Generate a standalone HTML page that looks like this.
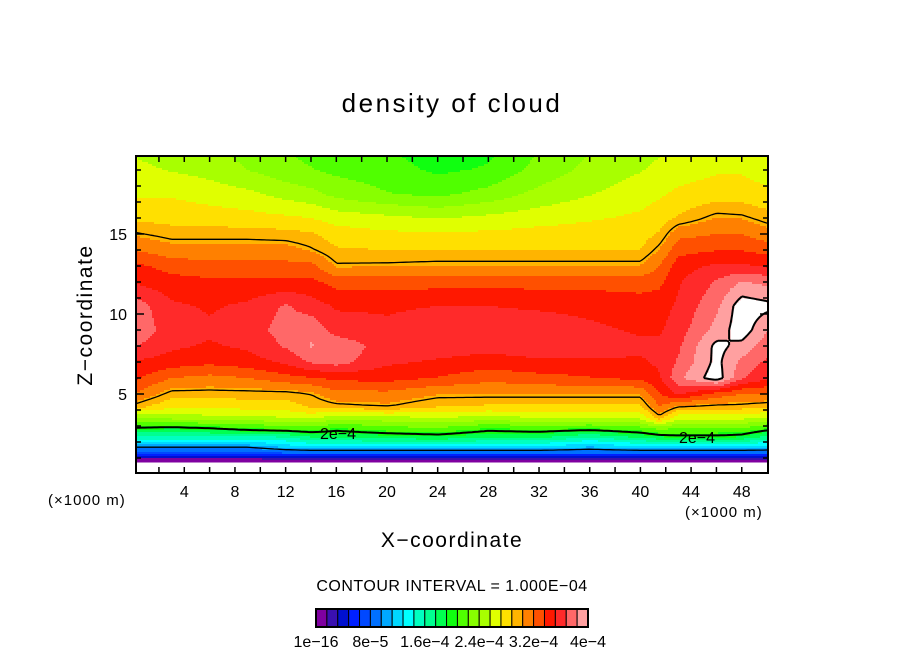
<!DOCTYPE html>
<html><head><meta charset="utf-8">
<style>
body{margin:0;background:#fff;}
svg{display:block;font-family:"Liberation Sans","DejaVu Sans",sans-serif;}
</style></head>
<body>
<svg id="chart" width="904" height="654" viewBox="0 0 904 654">
<rect width="904" height="654" fill="#fff"/>
<text x="452" y="112" font-size="26" text-anchor="middle" letter-spacing="2.5">density of cloud</text>
<defs><clipPath id="pc"><rect x="136" y="156" width="632" height="317"/></clipPath></defs>
<g id="field" clip-path="url(#pc)"></g>
<g id="contours" clip-path="url(#pc)"></g>
<g id="axes"></g>
<rect x="136" y="156" width="632" height="317" fill="none" stroke="#000" stroke-width="2"/>
<text x="48" y="505" font-size="15" letter-spacing="1">(×1000 m)</text>
<text x="685" y="517" font-size="15" letter-spacing="1">(×1000 m)</text>
<text x="452" y="547" font-size="21" text-anchor="middle" letter-spacing="1.5">X−coordinate</text>
<text x="0" y="0" font-size="21" text-anchor="middle" letter-spacing="1.5" transform="translate(92,315) rotate(-90)">Z−coordinate</text>
<text x="452" y="591" font-size="16" text-anchor="middle" letter-spacing="0.5">CONTOUR INTERVAL = 1.000E−04</text>
<g id="cbar"></g>
</svg>
<script>
const xs=[0,3,6,9,12,14,16,20,24,28,32,36,40,41.5,43,46,48,50];
const zs=[0,0.6,0.9,1.3,1.8,2.3,2.8,3.5,4.2,5,6,7,8,9,10.5,12,13,14,15,16,17.5,19,20];
const dens=[
[-0.2,-0.2,-0.2,-0.2,-0.2,-0.2,-0.2,-0.2,-0.2,-0.2,-0.2,-0.2,-0.2,-0.2,-0.2,-0.2,-0.2,-0.2],
[-0.1,-0.1,-0.1,-0.1,-0.1,-0.1,-0.1,-0.1,-0.1,-0.1,-0.1,-0.1,-0.1,-0.1,-0.1,-0.1,-0.1,-0.1],
[0.1,0.1,0.1,0.1,0.1,0.1,0.1,0.1,0.1,0.1,0.1,0.1,0.1,0.1,0.1,0.1,0.1,0.1],
[0.7,0.7,0.7,0.7,0.8,0.8,0.8,0.8,0.8,0.8,0.8,0.8,0.8,0.8,0.8,0.8,0.8,0.8],
[1.1,1.1,1.1,1.1,1.25,1.35,1.35,1.35,1.35,1.35,1.35,1.2,1.35,1.35,1.35,1.35,1.35,1.3],
[1.55,1.55,1.55,1.55,1.6,1.75,1.8,1.85,1.9,1.8,1.8,1.6,1.8,1.9,1.95,1.95,1.9,1.7],
[1.95,1.9,1.95,2.05,2.1,2.15,2.05,2.15,2.2,2.05,2.1,2.05,2.15,2.25,2.2,2.2,2.2,2.05],
[2.35,2.45,2.5,2.5,2.55,2.6,2.45,2.5,2.55,2.5,2.55,2.55,2.6,2.95,2.6,2.6,2.6,2.55],
[2.95,2.75,2.75,2.78,2.8,2.9,2.95,3.0,2.88,2.85,2.85,2.85,2.85,3.2,3.0,2.95,2.95,2.9],
[3.2,2.95,2.95,2.95,2.95,3.0,3.15,3.15,3.05,3.05,3.05,3.05,3.05,3.35,3.55,3.3,3.2,3.2],
[3.4,3.2,3.15,3.2,3.3,3.35,3.4,3.42,3.35,3.25,3.3,3.35,3.4,3.5,3.8,4.1,3.7,3.55],
[3.5,3.45,3.4,3.45,3.55,3.7,3.75,3.55,3.5,3.45,3.5,3.5,3.5,3.55,3.7,4.05,3.8,3.65],
[3.7,3.55,3.5,3.55,3.7,3.85,3.8,3.6,3.6,3.58,3.6,3.6,3.55,3.55,3.65,4.05,3.95,3.75],
[3.8,3.6,3.55,3.6,3.75,3.8,3.6,3.55,3.6,3.6,3.6,3.55,3.5,3.5,3.6,3.9,4.1,3.85],
[3.78,3.55,3.5,3.55,3.7,3.6,3.5,3.5,3.52,3.52,3.5,3.48,3.45,3.45,3.55,3.8,4.1,4.05],
[3.5,3.42,3.4,3.4,3.4,3.4,3.3,3.28,3.3,3.3,3.3,3.3,3.28,3.32,3.5,3.7,3.85,3.8],
[3.4,3.3,3.25,3.25,3.25,3.25,3.02,3.03,3.05,3.05,3.05,3.05,3.05,3.2,3.45,3.55,3.55,3.5],
[3.2,3.1,3.1,3.1,3.1,3.02,2.9,2.88,2.88,2.88,2.88,2.88,2.88,3.05,3.3,3.35,3.35,3.3],
[3.02,2.95,2.95,2.95,2.93,2.9,2.8,2.75,2.75,2.75,2.78,2.8,2.8,2.9,3.15,3.2,3.2,3.1],
[2.85,2.82,2.8,2.78,2.75,2.72,2.65,2.6,2.55,2.6,2.65,2.7,2.75,2.8,2.9,3.05,3.03,2.95],
[2.7,2.7,2.65,2.6,2.5,2.45,2.35,2.25,2.2,2.3,2.45,2.55,2.65,2.7,2.75,2.8,2.8,2.75],
[2.6,2.55,2.5,2.4,2.3,2.25,2.2,2.15,2.05,2.1,2.3,2.45,2.55,2.6,2.65,2.7,2.7,2.65],
[2.55,2.5,2.45,2.35,2.25,2.2,2.15,2.1,2.0,2.05,2.25,2.4,2.5,2.55,2.6,2.65,2.65,2.6]
];
const palette=["#7f00a0","#3a10b0","#0010d0","#0020ff","#0048ff","#0070ff","#00a8ff","#00d8ff","#00ffff","#00ffc0","#00ff90","#00ff50","#10ff10","#50ff00","#88ff00","#a8ff00","#e0ff00","#ffe000","#ffb400","#ff8000","#ff5000","#ff1800","#ff2a2a","#ff6868","#ffa0a0"];
const contourLevels=[1,2,3,4];
const xTicks=[4,8,12,16,20,24,28,32,36,40,44,48];
const yTicks=[5,10,15];
const cbarLabels=["1e−16","8e−5","1.6e−4","2.4e−4","3.2e−4","4e−4"];
const step=0.16;

const NS="http://www.w3.org/2000/svg";
const X=x=>133.6+12.67*x;
const Y=z=>474-16*z;
const Xinv=px=>(px-133.6)/12.67;
const Yinv=py=>(474-py)/16;
function idx(arr,v){let i=0;while(i<arr.length-2&&v>arr[i+1])i++;return i;}
function val(x,z){
  x=Math.max(0,Math.min(50,x));z=Math.max(0,Math.min(20,z));
  const i=idx(xs,x),j=idx(zs,z);
  const tx=(x-xs[i])/(xs[i+1]-xs[i]),tz=(z-zs[j])/(zs[j+1]-zs[j]);
  const a=dens[j][i],b=dens[j][i+1],c=dens[j+1][i],d=dens[j+1][i+1];
  return (a*(1-tx)+b*tx)*(1-tz)+(c*(1-tx)+d*tx)*tz;
}
function color(v){if(v<0)return null;const k=Math.floor(v/step);if(k>=palette.length)return null;return palette[k];}

const field=document.getElementById('field');
for(let py=156;py<474;py+=2){
  let runStart=136,runCol=color(val(Xinv(137),Yinv(py+1)));
  for(let px=138;px<=770;px+=2){
    const c=px<768?color(val(Xinv(px+1),Yinv(py+1))):'END';
    if(c!==runCol){
      if(runCol){
        const r=document.createElementNS(NS,'rect');
        r.setAttribute('x',runStart);r.setAttribute('y',py);
        r.setAttribute('width',px-runStart+0.5);r.setAttribute('height',2.5);
        r.setAttribute('fill',runCol);
        
        
        field.appendChild(r);
      }
      runStart=px;runCol=c;
    }
  }
}

const cg=document.getElementById('contours');
const G=3;
contourLevels.forEach(L=>{
  let d='';
  for(let py=156;py<474;py+=G){
    for(let px=136;px<768;px+=G){
      const p=[[px,py],[px+G,py],[px+G,py+G],[px,py+G]];
      const v=p.map(q=>val(Xinv(q[0]),Yinv(q[1])));
      const pts=[];
      for(let e=0;e<4;e++){
        const a=v[e],b=v[(e+1)%4];
        if((a<L)!==(b<L)){
          const t=(L-a)/(b-a);
          const A=p[e],B=p[(e+1)%4];
          pts.push([A[0]+(B[0]-A[0])*t,A[1]+(B[1]-A[1])*t]);
        }
      }
      for(let k=0;k+1<pts.length;k+=2){
        d+='M'+pts[k][0].toFixed(1)+' '+pts[k][1].toFixed(1)+'L'+pts[k+1][0].toFixed(1)+' '+pts[k+1][1].toFixed(1);
      }
    }
  }
  const path=document.createElementNS(NS,'path');
  path.setAttribute('d',d);
  path.setAttribute('fill','none');
  path.setAttribute('stroke','#000');
  path.setAttribute('stroke-width',L===2||L===4?2:1.3);
  
  
  cg.appendChild(path);
});
[[338,439],[697,443]].forEach(p=>{
  const t=document.createElementNS(NS,'text');
  t.setAttribute('x',p[0]);t.setAttribute('y',p[1]);
  t.setAttribute('font-size','16');t.setAttribute('text-anchor','middle');
  t.textContent='2e−4';
  
  
  cg.appendChild(t);
});

const ax=document.getElementById('axes');
function line(x1,y1,x2,y2,name){
  const l=document.createElementNS(NS,'line');
  l.setAttribute('x1',x1);l.setAttribute('y1',y1);l.setAttribute('x2',x2);l.setAttribute('y2',y2);
  l.setAttribute('stroke','#000');l.setAttribute('stroke-width',1.5);
  
  
  ax.appendChild(l);
}
for(let x=2;x<50;x+=2){line(X(x),473,X(x),467,'x-tick');line(X(x),156,X(x),162,'x-tick-top');}
for(let z=1;z<20;z++){const len=z%5===0?8:5;line(136,Y(z),136+len,Y(z),'y-tick');line(768,Y(z),768-len,Y(z),'y-tick-right');}
xTicks.forEach(x=>{
  const t=document.createElementNS(NS,'text');
  t.setAttribute('x',X(x));t.setAttribute('y',497);t.setAttribute('font-size','16');t.setAttribute('text-anchor','middle');
  t.textContent=x;
  
  
  ax.appendChild(t);
});
yTicks.forEach(z=>{
  const t=document.createElementNS(NS,'text');
  t.setAttribute('x',127);t.setAttribute('y',Y(z)+6);t.setAttribute('font-size','16');t.setAttribute('text-anchor','end');
  t.textContent=z;
  
  
  ax.appendChild(t);
});

const cb=document.getElementById('cbar');
const cbx=316,cbw=272/palette.length;
palette.forEach((c,i)=>{
  const r=document.createElementNS(NS,'rect');
  r.setAttribute('x',cbx+i*cbw);r.setAttribute('y',609);r.setAttribute('width',cbw);r.setAttribute('height',18);
  r.setAttribute('fill',c);r.setAttribute('stroke','#000');r.setAttribute('stroke-width',1);
  
  
  cb.appendChild(r);
});
const fr=document.createElementNS(NS,'rect');
fr.setAttribute('x',cbx);fr.setAttribute('y',609);fr.setAttribute('width',272);fr.setAttribute('height',18);
fr.setAttribute('fill','none');fr.setAttribute('stroke','#000');fr.setAttribute('stroke-width',2);


cb.appendChild(fr);
cbarLabels.forEach((s,i)=>{
  const t=document.createElementNS(NS,'text');
  t.setAttribute('x',cbx+i*5*cbw);t.setAttribute('y',647);t.setAttribute('font-size','16');t.setAttribute('text-anchor','middle');
  t.textContent=s;
  
  
  cb.appendChild(t);
});
</script>
</body></html>
